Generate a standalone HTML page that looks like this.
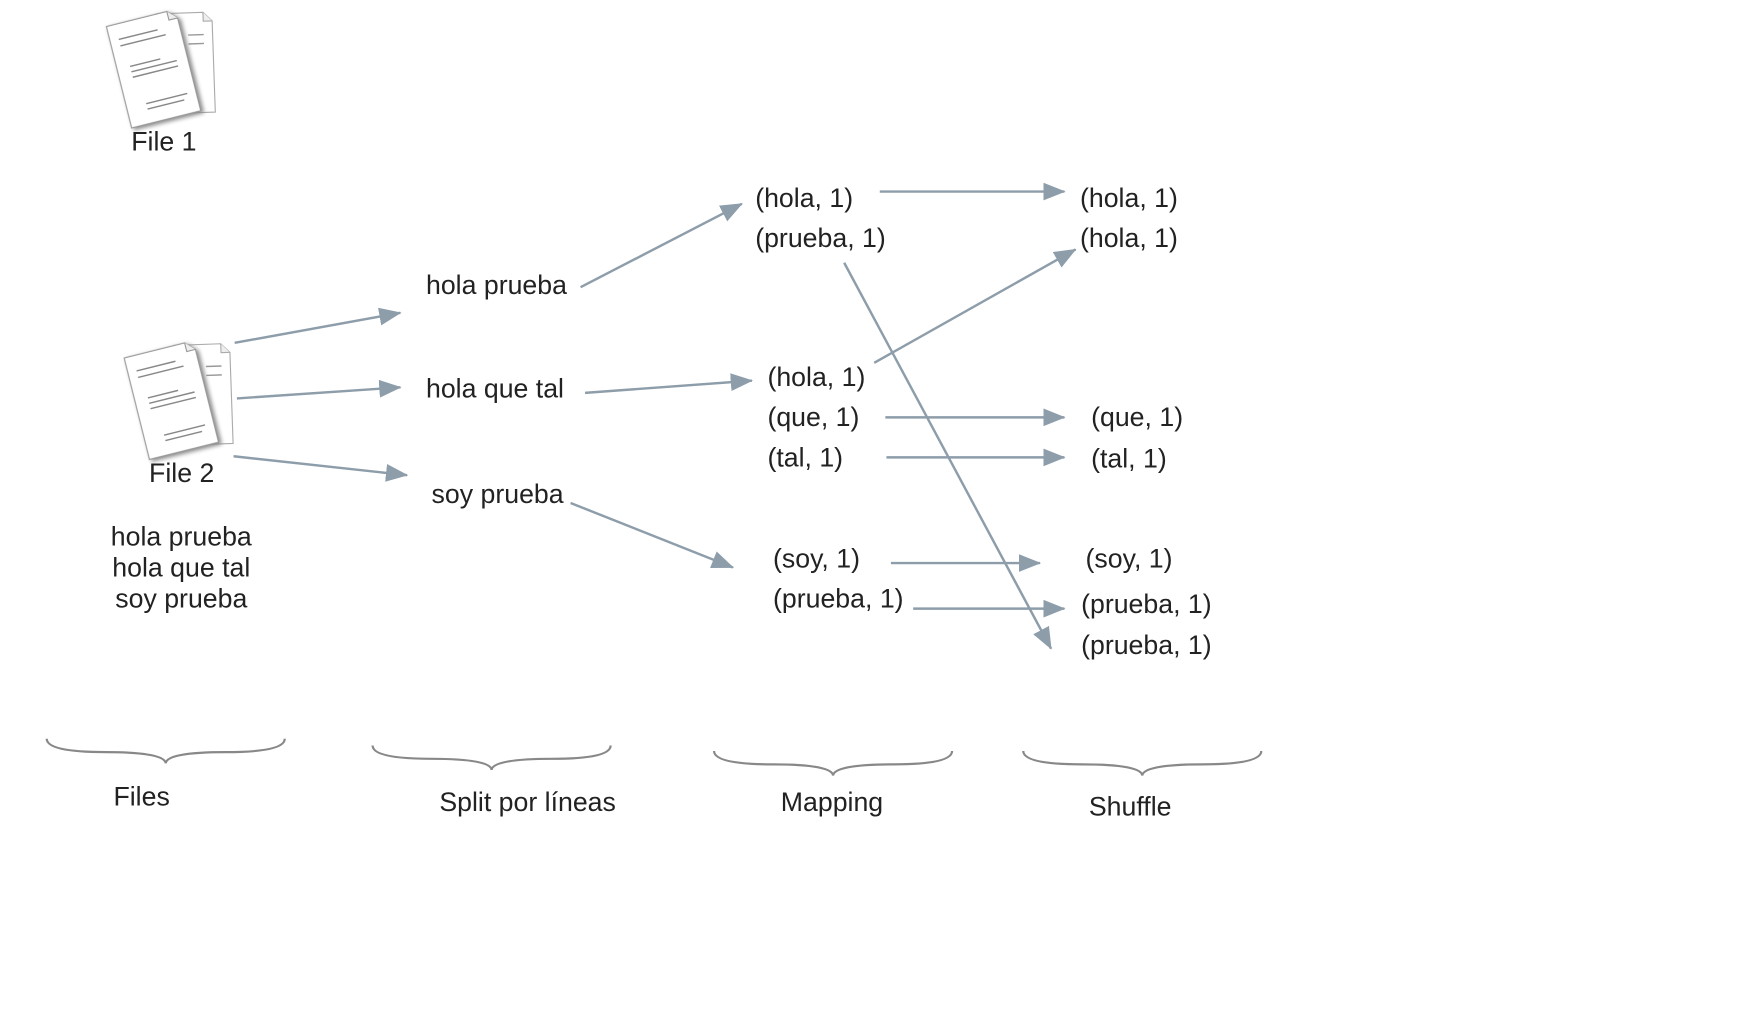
<!DOCTYPE html>
<html><head><meta charset="utf-8"><style>
html,body{margin:0;padding:0;background:#fff;}
svg{display:block;}
text{font-family:"Liberation Sans",sans-serif;font-size:24px;fill:#222;}
</style></head><body>
<svg width="1744" height="1036" viewBox="0 0 1568 931" xmlns="http://www.w3.org/2000/svg">
<defs>
<marker id="ah" viewBox="0 0 20 16" refX="19" refY="8" markerWidth="20" markerHeight="16" markerUnits="userSpaceOnUse" orient="auto"><path d="M0,0 L20,8 L0,16 Z" fill="#8d9daa"/></marker>
<g id="doc">
 <g transform="rotate(-2 60 50)">
  <path d="M52,6 L94,6 L102,14 L102,96 L52,96 Z" fill="#fff" stroke="#aaa" stroke-width="1"/>
  <path d="M94,6 L94,14 L102,14" fill="#eee" stroke="#aaa"/>
  <g stroke="#999" stroke-width="1.3"><line x1="80" y1="26" x2="94" y2="26"/><line x1="80" y1="34" x2="94" y2="34"/></g>
 </g>
 <g transform="rotate(-14 50 55)">
  <path d="M16,8 L72,8 L80,16 L80,102 L16,102 Z" fill="#fff" stroke="#999" stroke-width="1" style="filter:drop-shadow(2px 2px 2px #888)"/>
  <path d="M72,8 L72,16 L80,16" fill="#eee" stroke="#999"/>
  <g stroke="#888" stroke-width="1.3">
   <line x1="24" y1="22" x2="60" y2="22"/><line x1="24" y1="28" x2="66" y2="28"/>
   <line x1="28" y1="48" x2="56" y2="48"/><line x1="28" y1="53" x2="70" y2="53"/><line x1="28" y1="58" x2="70" y2="58"/>
   <line x1="34" y1="84" x2="72" y2="84"/><line x1="34" y1="89" x2="68" y2="89"/>
  </g>
 </g>
</g>
</defs>
<use href="#doc" x="90" y="6"/>
<text x="118" y="135">File 1</text>
<use href="#doc" x="106" y="304"/>
<text x="134" y="433">File 2</text>
<text x="163" y="490" text-anchor="middle">hola prueba</text>
<text x="163" y="518" text-anchor="middle">hola que tal</text>
<text x="163" y="546" text-anchor="middle">soy prueba</text>

<g stroke="#8d9daa" stroke-width="2.2" fill="none" marker-end="url(#ah)">
<line x1="211" y1="308" x2="360" y2="281"/>
<line x1="213" y1="358" x2="360" y2="348"/>
<line x1="210" y1="410" x2="366" y2="427"/>
<line x1="522" y1="258" x2="667" y2="183"/>
<line x1="526" y1="353" x2="676" y2="342"/>
<line x1="513" y1="452" x2="659" y2="510"/>
<line x1="791" y1="172" x2="957" y2="172"/>
<line x1="786" y1="326" x2="967" y2="224"/>
<line x1="759" y1="236" x2="945" y2="583"/>
<line x1="796" y1="375" x2="957" y2="375"/>
<line x1="797" y1="411" x2="957" y2="411"/>
<line x1="801" y1="506" x2="935" y2="506"/>
<line x1="821" y1="547" x2="957" y2="547"/>
</g>

<text x="383" y="264">hola prueba</text>
<text x="383" y="357">hola que tal</text>
<text x="388" y="452">soy prueba</text>

<text x="679" y="186">(hola, 1)</text>
<text x="679" y="222">(prueba, 1)</text>
<text x="690" y="347">(hola, 1)</text>
<text x="690" y="383">(que, 1)</text>
<text x="690" y="419">(tal, 1)</text>
<text x="695" y="510">(soy, 1)</text>
<text x="695" y="546">(prueba, 1)</text>

<text x="971" y="186">(hola, 1)</text>
<text x="971" y="222">(hola, 1)</text>
<text x="981" y="383">(que, 1)</text>
<text x="981" y="420">(tal, 1)</text>
<text x="976" y="510">(soy, 1)</text>
<text x="972" y="551">(prueba, 1)</text>
<text x="972" y="588">(prueba, 1)</text>

<g stroke="#888" stroke-width="2" fill="none">
<path d="M42,664 Q42,676 95,676 Q148,676 149,686 Q150,676 203,676 Q256,676 256,664"/>
<path d="M335,670 Q335,682 388,682 Q441,682 442,692 Q443,682 496,682 Q549,682 549,670"/>
<path d="M642,675 Q642,687 695,687 Q748,687 749,697 Q750,687 803,687 Q856,687 856,675"/>
<path d="M920,675 Q920,687 973,687 Q1026,687 1027,697 Q1028,687 1081,687 Q1134,687 1134,675"/>
</g>
<text x="102" y="724">Files</text>
<text x="395" y="729">Split por líneas</text>
<text x="702" y="729">Mapping</text>
<text x="979" y="733">Shuffle</text>
</svg>
</body></html>
